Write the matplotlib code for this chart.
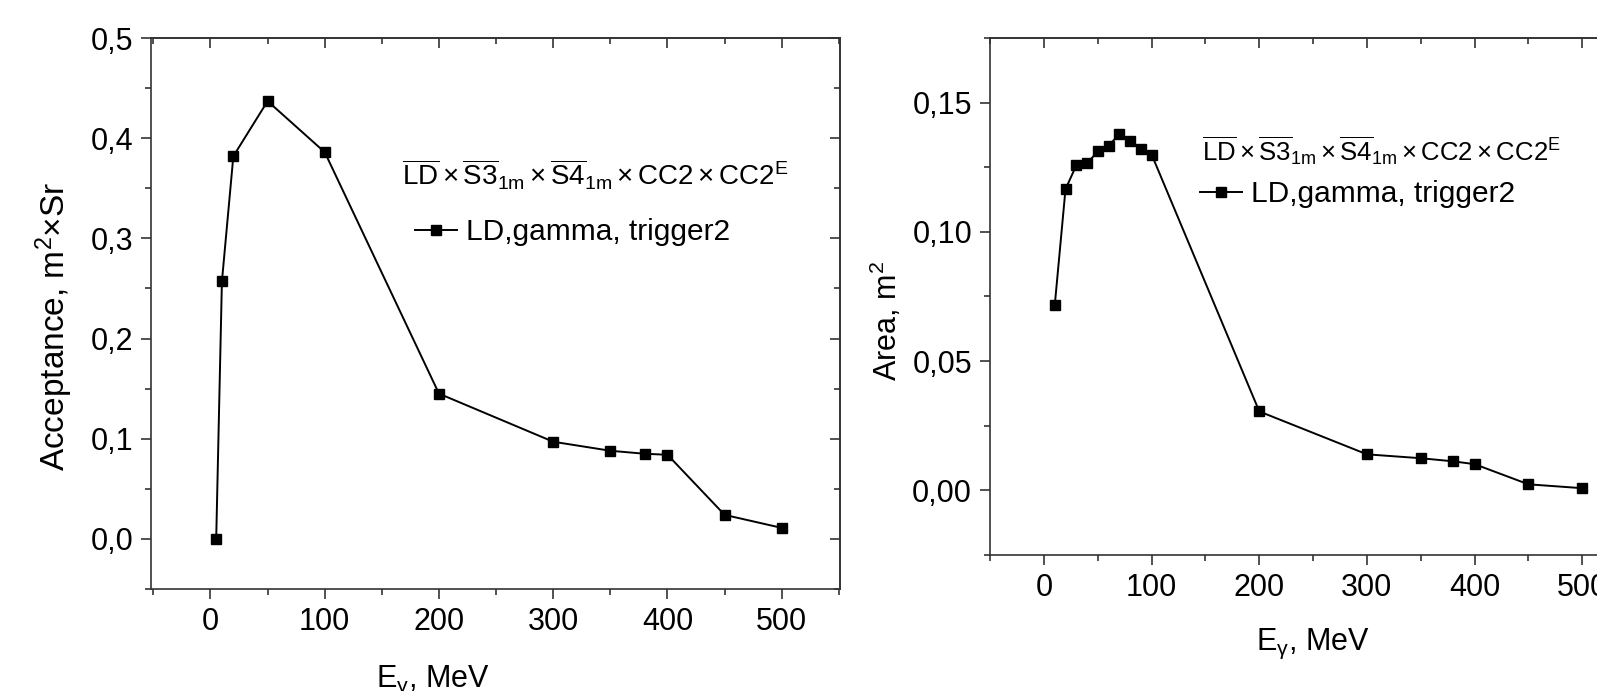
import matplotlib
matplotlib.use("Agg")
import matplotlib.pyplot as plt
from matplotlib.ticker import MultipleLocator, FuncFormatter, NullFormatter

plt.rcParams['font.family'] = ['Liberation Sans', 'DejaVu Sans']
plt.rcParams['mathtext.fontset'] = 'custom'
plt.rcParams['mathtext.rm'] = 'Liberation Sans'
plt.rcParams['mathtext.it'] = 'Liberation Sans:italic'
plt.rcParams['mathtext.sf'] = 'Liberation Sans'

# left panel: acceptance vs energy
e_acc = [5, 10, 20, 50, 100, 200, 300, 350, 380, 400, 450, 500]
acceptance = [0.0, 0.257, 0.382, 0.437, 0.386, 0.145, 0.097, 0.088, 0.085, 0.084, 0.024, 0.011]

# right panel: area vs energy
e_area = [10, 20, 30, 40, 50, 60, 70, 80, 90, 100, 200, 300, 350, 380, 400, 450, 500]
area = [0.0715, 0.1165, 0.1257, 0.1265, 0.1311, 0.1334, 0.1377, 0.1353, 0.1319, 0.1299,
        0.0305, 0.0139, 0.0124, 0.0112, 0.0101, 0.0023, 0.0008]

trigger_title = (r'$\overline{\mathrm{LD}}\times\overline{\mathrm{S3}}_{\mathrm{1m}}\times'
                 r'\overline{\mathrm{S4}}_{\mathrm{1m}}\times\mathrm{CC2}\times\mathrm{CC2}^{\mathrm{E}}$')
series_label = 'LD,gamma, trigger2'
x_title = r'E$_{\mathrm{γ}}$, MeV'

FS = 22
LEG = 21.5
SPINE = '#333333'


def comma(fmt):
    return FuncFormatter(lambda v, p: (fmt % v).replace('.', ','))


def style(ax, xmaj, xmin, ymaj, ymin, yfmt, fs):
    for s in ax.spines.values():
        s.set_linewidth(1.2)
        s.set_color(SPINE)
    ax.xaxis.set_major_locator(MultipleLocator(xmaj))
    ax.xaxis.set_minor_locator(MultipleLocator(xmin))
    ax.yaxis.set_major_locator(MultipleLocator(ymaj))
    ax.yaxis.set_minor_locator(MultipleLocator(ymin))
    ax.yaxis.set_major_formatter(comma(yfmt))
    ax.xaxis.set_major_formatter(comma('%d'))
    ax.tick_params(which='both', direction='out', width=1.2, color=SPINE,
                   labelsize=fs, top=False, right=False)
    ax.tick_params(which='major', length=7, pad=6)
    ax.tick_params(which='minor', length=4)
    # ticks on top and right point inward, without labels
    top = ax.secondary_xaxis('top')
    top.xaxis.set_major_locator(MultipleLocator(xmaj))
    top.xaxis.set_minor_locator(MultipleLocator(xmin))
    top.xaxis.set_major_formatter(NullFormatter())
    top.tick_params(which='both', direction='in', width=1.2, color=SPINE)
    top.tick_params(which='major', length=7)
    top.tick_params(which='minor', length=4)
    top.spines['top'].set_linewidth(1.2)
    top.spines['top'].set_color(SPINE)
    right = ax.secondary_yaxis('right')
    right.yaxis.set_major_locator(MultipleLocator(ymaj))
    right.yaxis.set_minor_locator(MultipleLocator(ymin))
    right.yaxis.set_major_formatter(NullFormatter())
    right.tick_params(which='both', direction='in', width=1.2, color=SPINE)
    right.tick_params(which='major', length=7)
    right.tick_params(which='minor', length=4)
    right.spines['right'].set_linewidth(1.2)
    right.spines['right'].set_color(SPINE)


fig = plt.figure(figsize=(15.97, 6.91), dpi=100)

# ---- left ----
ax1 = fig.add_axes([0.0946, 0.1476, 0.4314, 0.7974])
ax1.plot(e_acc, acceptance, color='black', lw=1.4, marker='s', ms=6.5,
         label=series_label)
ax1.set_xlim(-52, 551)
ax1.set_ylim(-0.05, 0.5)
style(ax1, 100, 50, 0.1, 0.05, '%.1f', FS)
ax1.set_xlabel(x_title, fontsize=FS)
ax1.xaxis.set_label_coords(0.409, -0.135)
ax1.set_ylabel(r'Acceptance, m$^2$$\times$Sr', fontsize=24)
ax1.yaxis.set_label_coords(-0.110, 0.477)
ax1.text(0.364, 0.733, trigger_title, transform=ax1.transAxes, fontsize=20,
         va='baseline', ha='left')
ax1.legend(loc='center left', bbox_to_anchor=(0.383, 0.648), frameon=False,
           fontsize=LEG, borderpad=0, borderaxespad=0, handlelength=1.4,
           handletextpad=0.3)

# ---- right ----
ax2 = fig.add_axes([0.620, 0.197, 0.4045, 0.748])
ax2.plot(e_area, area, color='black', lw=1.4, marker='s', ms=7.5,
         label=series_label)
ax2.set_xlim(-50, 550)
ax2.set_ylim(-0.025, 0.175)
style(ax2, 100, 50, 0.05, 0.025, '%.2f', FS)
ax2.set_xlabel(x_title, fontsize=FS)
ax2.xaxis.set_label_coords(0.5, -0.14)
ax2.set_ylabel(r'Area, m$^2$', fontsize=FS)
ax2.yaxis.set_label_coords(-0.133, 0.453)
ax2.text(0.328, 0.762, trigger_title, transform=ax2.transAxes, fontsize=18.5,
         va='baseline', ha='left')
ax2.legend(loc='center left', bbox_to_anchor=(0.325, 0.698), frameon=False,
           fontsize=LEG, borderpad=0, borderaxespad=0, handlelength=1.4,
           handletextpad=0.3)

fig.savefig('out.png', dpi=100)
